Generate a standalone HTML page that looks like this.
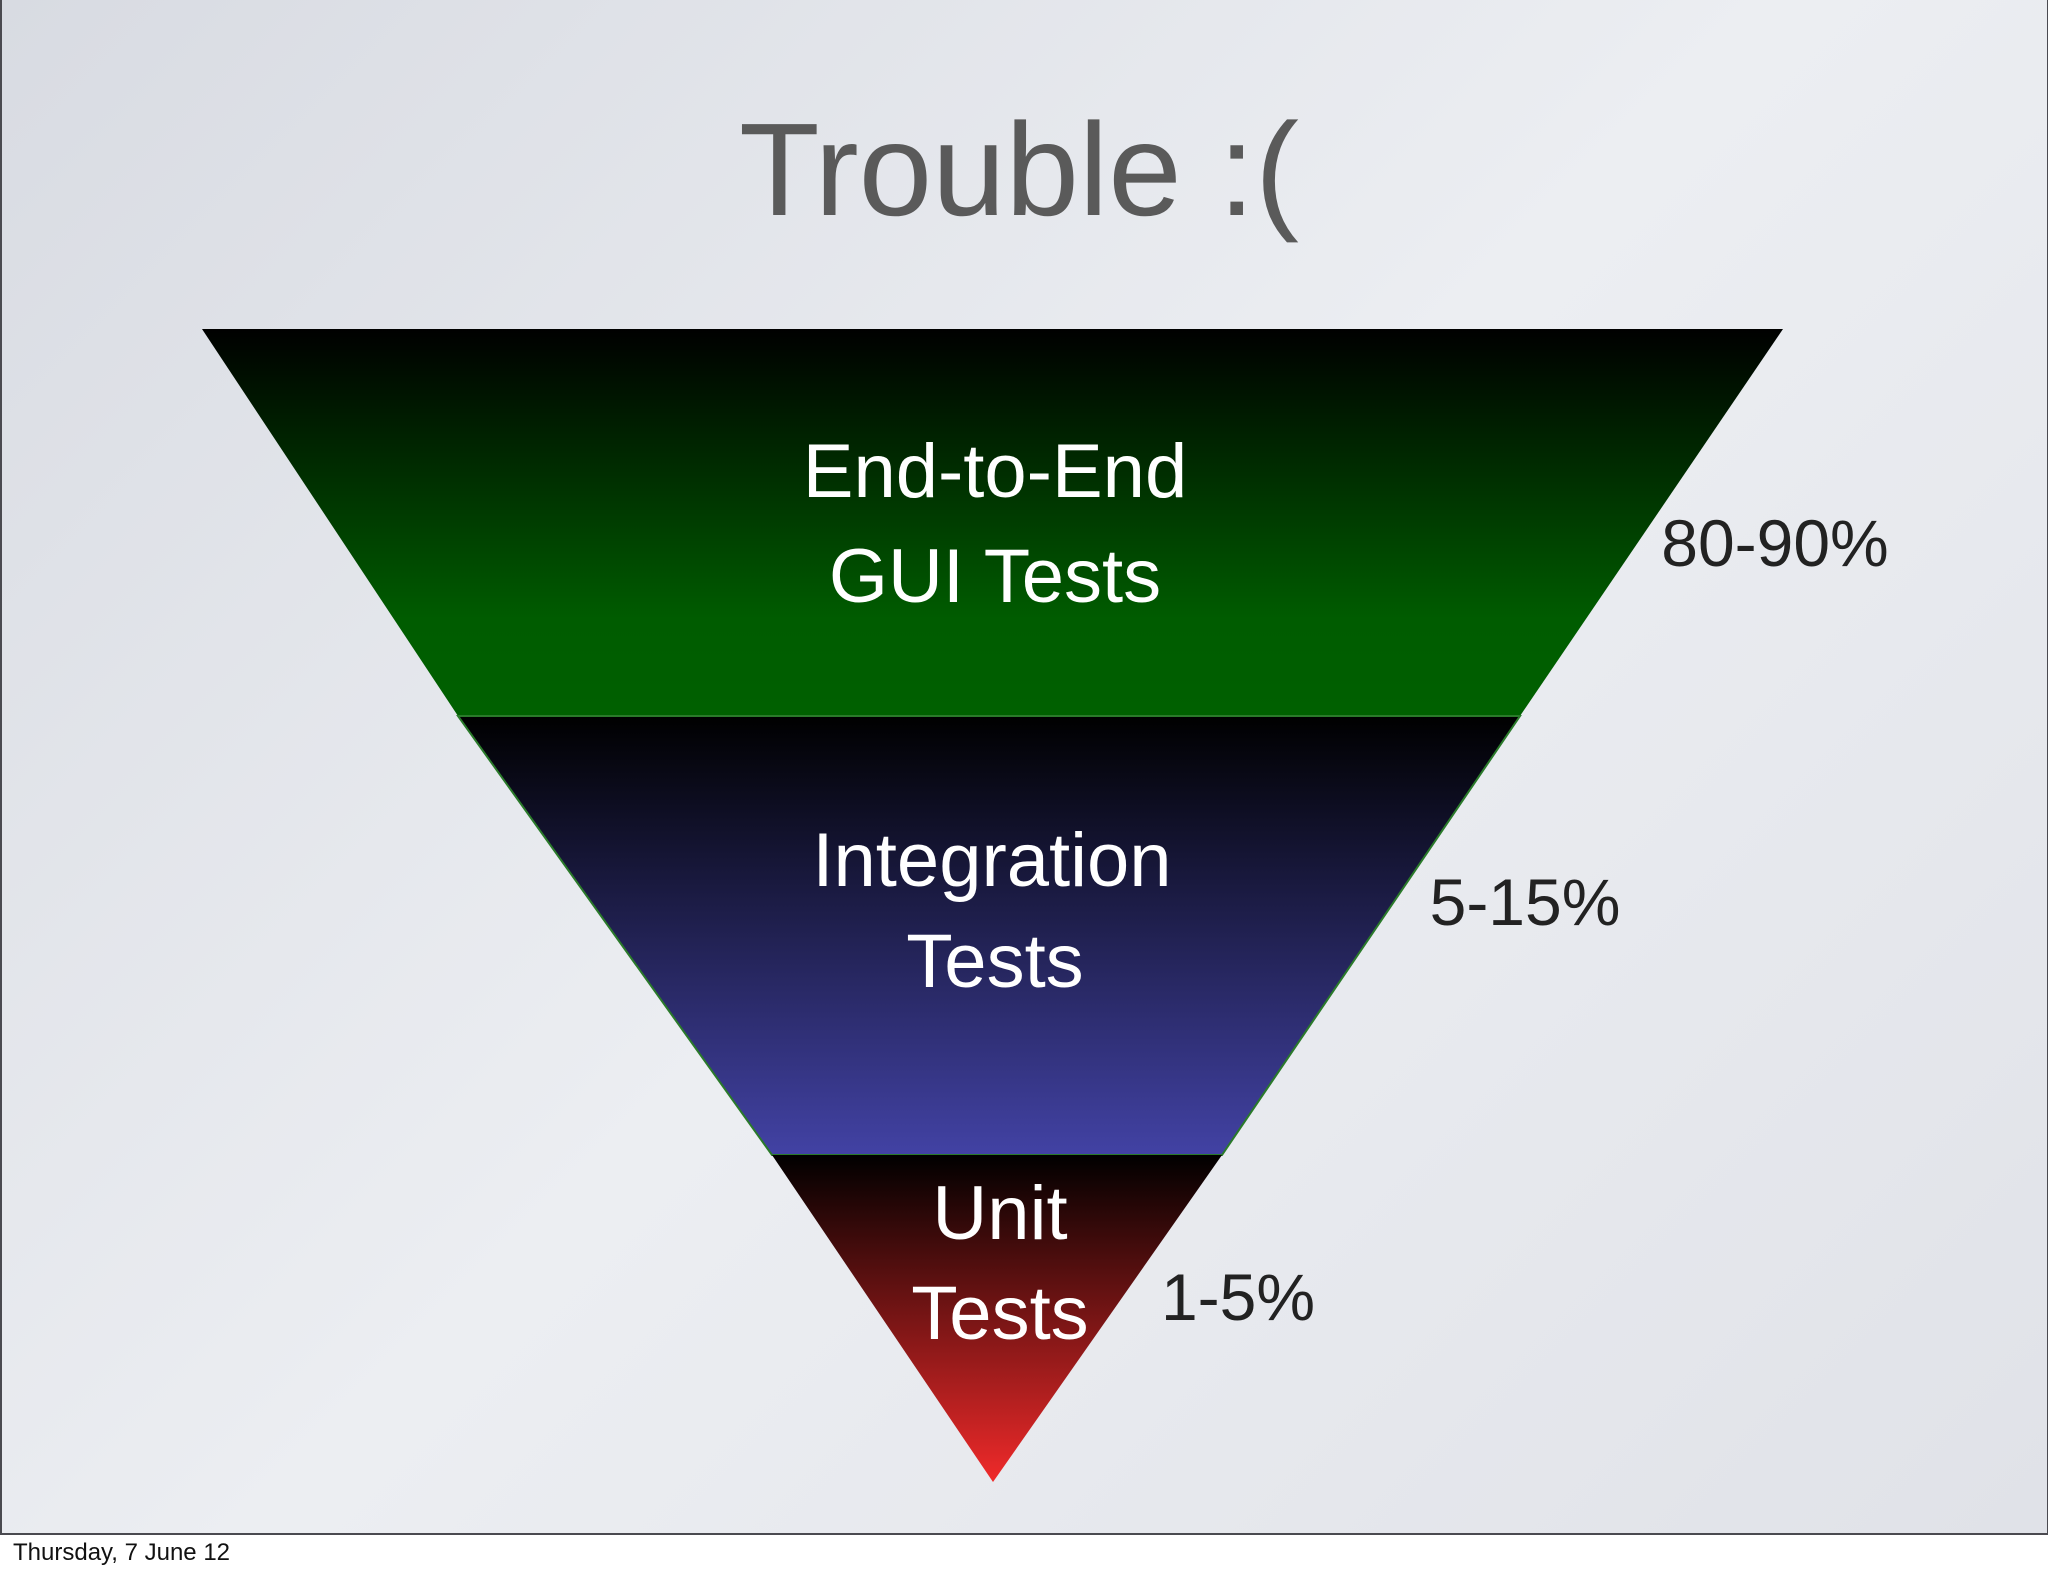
<!DOCTYPE html>
<html><head><meta charset="utf-8"><style>
html,body{margin:0;padding:0;width:2048px;height:1576px;background:#fff;overflow:hidden}
.slide{position:absolute;left:0;top:0;width:2045px;height:1533px;border:2px solid #4a4a50;border-top:none;background:linear-gradient(135deg,#d8dbe2,#eceef2 50%,#e0e2e8)}
.foot{position:absolute;left:13px;top:1539px;font:24px "Liberation Sans",sans-serif;color:#111}
svg{position:absolute;left:0;top:0}
</style></head><body>
<div class="slide"></div>
<div class="foot">Thursday, 7 June 12</div>
<svg width="2048" height="1576" viewBox="0 0 2048 1576">
<defs>
<linearGradient id="g" x1="0" y1="0" x2="0" y2="1"><stop offset="0" stop-color="#000"/><stop offset="0.75" stop-color="#005c00"/><stop offset="1" stop-color="#006000"/></linearGradient>
<linearGradient id="b" x1="0" y1="0" x2="0" y2="1"><stop offset="0" stop-color="#000"/><stop offset="1" stop-color="#4242a4"/></linearGradient>
<linearGradient id="r" x1="0" y1="0" x2="0" y2="1"><stop offset="0" stop-color="#000"/><stop offset="1" stop-color="#f02a2a"/></linearGradient>
</defs>
<polygon points="202,329 1783,329 1520,716 458,716" fill="url(#g)"/>
<polygon points="458,716 1520,716 1222,1155 772,1155" fill="url(#b)" stroke="#2a7a2a" stroke-width="2"/>
<polygon points="772,1155 1222,1155 993,1482" fill="url(#r)"/>
<g font-family="Liberation Sans, sans-serif" text-anchor="middle">
<text x="1019" y="215" font-size="132" fill="#5a5a5a">Trouble :(</text>
<g fill="#fff" font-size="76">
<text x="995" y="497">End-to-End</text>
<text x="995" y="602">GUI Tests</text>
<text x="992" y="886">Integration</text>
<text x="995" y="987">Tests</text>
<text x="1000" y="1239">Unit</text>
<text x="1000" y="1339">Tests</text>
</g>
<g fill="#222" font-size="66">
<text x="1775" y="566">80-90%</text>
<text x="1525" y="925">5-15%</text>
<text x="1238" y="1320">1-5%</text>
</g>
</g>
</svg>
</body></html>
